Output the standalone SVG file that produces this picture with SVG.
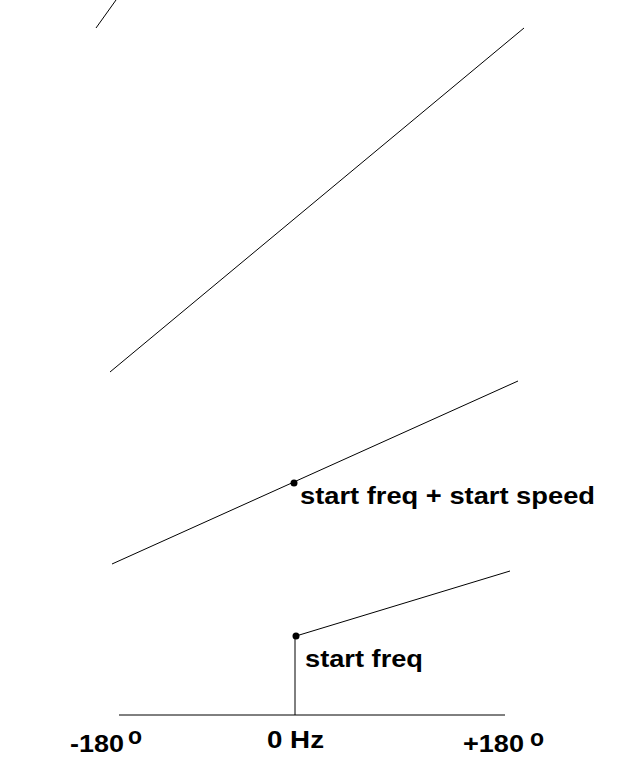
<svg xmlns="http://www.w3.org/2000/svg" width="640" height="768" viewBox="0 0 640 768">
<style>
.l{stroke:#000;stroke-width:1;fill:none}
.t{font-family:"Liberation Sans",Arial,sans-serif;font-weight:bold;font-size:23px;fill:#000}
</style>
<rect width="640" height="768" fill="#fff"/>
<g id="connectors">
<line class="l" x1="96" y1="28" x2="116" y2="0"/>
<line class="l" x1="110" y1="372" x2="524" y2="28"/>
<line class="l" x1="112" y1="564" x2="518" y2="381"/>
<line class="l" x1="296" y1="636" x2="510" y2="571"/>
<line class="l" x1="295" y1="636" x2="295" y2="715"/>
<line class="l" x1="119" y1="715" x2="505" y2="715"/>
</g>
<g id="p1"><circle cx="294" cy="483" r="3.5"/><text class="t" x="300" y="504" textLength="295" lengthAdjust="spacingAndGlyphs">start freq + start speed</text></g>
<g id="p2"><circle cx="296" cy="636" r="3.5"/><text class="t" x="305" y="667" textLength="118" lengthAdjust="spacingAndGlyphs">start freq</text></g>
<g id="axis">
<text class="t" x="70" y="752" textLength="54" lengthAdjust="spacingAndGlyphs">-180</text><text class="t" x="128" y="744">o</text>
<text class="t" x="267" y="748" textLength="57" lengthAdjust="spacingAndGlyphs">0 Hz</text>
<text class="t" x="463" y="752" textLength="61" lengthAdjust="spacingAndGlyphs">+180</text><text class="t" x="530" y="746">o</text>
</g>
</svg>
